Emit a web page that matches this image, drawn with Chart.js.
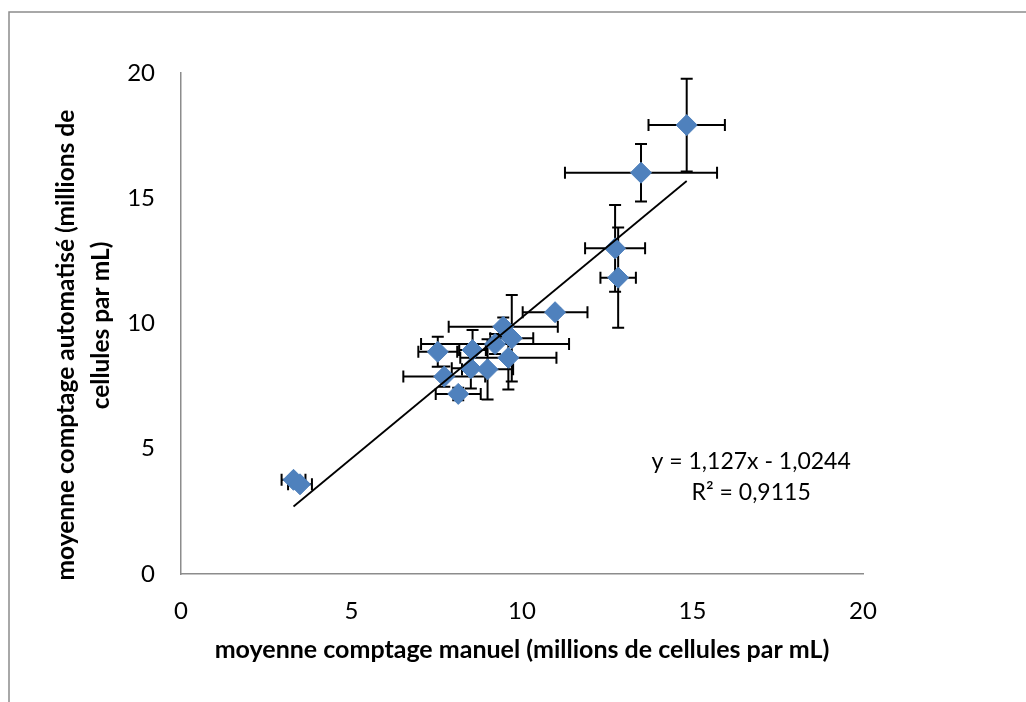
<!DOCTYPE html>
<html>
<head>
<meta charset="utf-8">
<script src="https://cdn.jsdelivr.net/npm/chart.js@4/dist/chart.umd.min.js"></script>
<style>
  html, body { margin: 0; padding: 0; background: #fff; }
  #wrap { position: relative; width: 1026px; height: 702px; }
</style>
</head>
<body>
<div id="wrap"><canvas id="scatter-chart"></canvas></div>
<script>
// mean manual count (x) vs mean automated count (y), millions of cells per mL
var xVals = [3.30, 3.49, 7.53, 7.72, 8.13, 8.50, 8.55, 8.99, 9.21, 9.45, 9.60, 9.70, 10.97, 12.73, 12.82, 13.49, 14.83];
var yVals = [3.76, 3.58, 8.87, 7.88, 7.19, 8.21, 8.94, 8.17, 9.18, 9.87, 8.63, 9.41, 10.45, 13.00, 11.83, 16.02, 17.92];
// error bars (+/-) for each point
var xErr = [0.35, 0.35, 0.57, 1.20, 0.66, 0.56, 0.39, 0.75, 2.17, 1.60, 1.41, 0.63, 0.95, 0.88, 0.52, 2.23, 1.12];
var yErr = [0.15, 0.10, 0.60, 0.40, 0.25, 0.80, 0.80, 1.20, 0.40, 0.37, 1.26, 1.73, 0.15, 1.73, 2.00, 1.15, 1.85];
// linear trend line as printed on the chart
var trendSlope = 1.127;
var trendIntercept = -1.0244;
var trendLabel = ['y = 1,127x - 1,0244', 'R\u00b2 = 0,9115'];
var xTicks = [0, 5, 10, 15, 20];
var yTicks = [0, 5, 10, 15, 20];
var yTitle = ['moyenne comptage automatis\u00e9 (millions de', 'cellules par mL)'];

var FONT = "Lato, 'Open Sans', sans-serif";

var points = xVals.map(function (x, i) { return {x: x, y: yVals[i]}; });
var xMin = Math.min.apply(null, xVals);
var xMax = Math.max.apply(null, xVals);
var trendPoints = [
  {x: xMin, y: trendSlope * xMin + trendIntercept},
  {x: xMax, y: trendSlope * xMax + trendIntercept}
];

// outer frame around the chart
var framePlugin = {
  id: 'frame',
  beforeDraw: function (chart) {
    var c = chart.ctx;
    c.save();
    c.fillStyle = '#fff';
    c.fillRect(0, 0, chart.width, chart.height);
    c.strokeStyle = '#8c8c8c';
    c.lineWidth = 1.5;
    c.strokeRect(9, 12, chart.width + 20, chart.height + 20);
    c.restore();
  }
};

// error bars drawn under the markers
var errorBarPlugin = {
  id: 'errorBars',
  beforeDatasetsDraw: function (chart) {
    var c = chart.ctx;
    var sx = chart.scales.x, sy = chart.scales.y;
    var cap = 6;
    c.save();
    c.strokeStyle = '#000';
    c.lineWidth = 2;
    c.beginPath();
    for (var i = 0; i < xVals.length; i++) {
      var px = sx.getPixelForValue(xVals[i]);
      var py = sy.getPixelForValue(yVals[i]);
      var x1 = sx.getPixelForValue(xVals[i] - xErr[i]);
      var x2 = sx.getPixelForValue(xVals[i] + xErr[i]);
      var y1 = sy.getPixelForValue(yVals[i] - yErr[i]);
      var y2 = sy.getPixelForValue(yVals[i] + yErr[i]);
      c.moveTo(x1, py); c.lineTo(x2, py);
      c.moveTo(x1, py - cap); c.lineTo(x1, py + cap);
      c.moveTo(x2, py - cap); c.lineTo(x2, py + cap);
      c.moveTo(px, y1); c.lineTo(px, y2);
      c.moveTo(px - cap, y1); c.lineTo(px + cap, y1);
      c.moveTo(px - cap, y2); c.lineTo(px + cap, y2);
    }
    c.stroke();
    c.restore();
  }
};

// trend line equation label + the two-line y axis title (lines are not centred alike)
var textPlugin = {
  id: 'texts',
  afterDraw: function (chart) {
    var c = chart.ctx;
    var a = chart.chartArea;
    var cx = a.left + (a.right - a.left) * 0.836;
    var cy = a.top + (a.bottom - a.top) * 0.776;
    c.save();
    c.fillStyle = '#000';
    c.font = '23px ' + FONT;
    c.textAlign = 'center';
    c.textBaseline = 'middle';
    c.fillText(trendLabel[0], cx, cy);
    c.fillText(trendLabel[1], cx, cy + 31);

    c.font = 'bold 24.5px ' + FONT;
    c.translate(66, a.top + (a.bottom - a.top) * 0.543);
    c.rotate(-Math.PI / 2);
    c.fillText(yTitle[0], 0, 0);
    c.restore();

    c.save();
    c.fillStyle = '#000';
    c.font = 'bold 24.5px ' + FONT;
    c.textAlign = 'center';
    c.textBaseline = 'middle';
    c.translate(101, a.top + (a.bottom - a.top) * 0.504);
    c.rotate(-Math.PI / 2);
    c.fillText(yTitle[1], 0, 0);
    c.restore();
  }
};

var ctx = document.getElementById('scatter-chart');
var myChart = new Chart(ctx, {
  type: 'scatter',
  data: {
    datasets: [{
      type: 'line',
      label: 'Linear trend',
      data: trendPoints,
      borderColor: '#000',
      borderWidth: 1.8,
      pointRadius: 0,
      fill: false,
      order: 0
    }, {
      label: 'moyenne',
      data: points,
      pointStyle: 'rectRot',
      pointRadius: 10.5,
      pointBackgroundColor: '#4f81bd',
      pointBorderColor: '#4f81bd',
      pointBorderWidth: 1,
      order: 1
    }]
  },
  options: {
    responsive: true,
    maintainAspectRatio: false,
    animation: false,
    layout: { padding: { left: 0, top: 73, right: 163, bottom: 0 } },
    plugins: { legend: { display: false }, tooltip: { enabled: false } },
    scales: {
      x: {
        type: 'linear',
        min: 0, max: 20,
        afterBuildTicks: function (s) { s.ticks = xTicks.map(function (v) { return {value: v}; }); },
        afterFit: function (s) { s.height = 128; },
        grid: { display: false, drawTicks: false },
        border: { display: true, color: '#8c8c8c', width: 1.5 },
        ticks: { color: '#000', padding: 23, font: { family: FONT, size: 24 } },
        title: {
          display: true,
          text: 'moyenne comptage manuel (millions de cellules par mL)',
          color: '#000',
          padding: { top: 0, bottom: 37 },
          font: { family: FONT, size: 25, weight: 'bold', lineHeight: 1.2 }
        }
      },
      y: {
        type: 'linear',
        min: 0, max: 20,
        afterBuildTicks: function (s) { s.ticks = yTicks.map(function (v) { return {value: v}; }); },
        afterFit: function (s) { s.width = 181; },
        grid: { display: false, drawTicks: false },
        border: { display: true, color: '#8c8c8c', width: 1.5 },
        ticks: { color: '#000', padding: 26, font: { family: FONT, size: 24 } },
        title: { display: false }
      }
    }
  },
  plugins: [framePlugin, errorBarPlugin, textPlugin]
});
</script>
</body>
</html>
